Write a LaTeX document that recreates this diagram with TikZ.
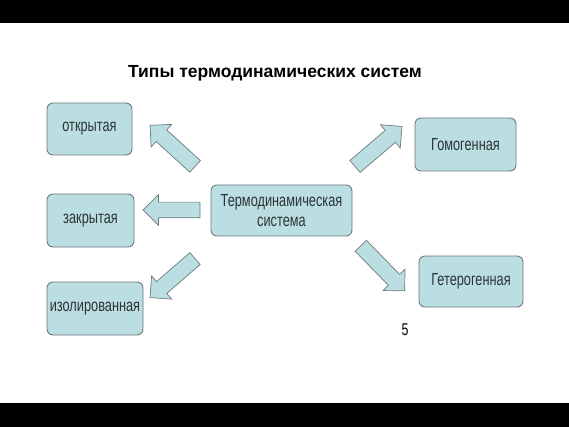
\documentclass[tikz,border=0pt]{standalone}
\usepackage{fontspec}
\setmainfont{Liberation Sans}
\newfontfamily\narrowfont[FakeStretch=0.73]{Liberation Sans}
\usepackage{tikz}
\usetikzlibrary{shapes.arrows,calc}

\definecolor{boxfill}{RGB}{186,222,226}
\definecolor{boxline}{RGB}{112,122,124}
\definecolor{boxtext}{RGB}{45,52,54}

\tikzset{
  kind/.style={draw=boxline,fill=boxfill,line width=0.9pt,rounded corners=6pt,
    text=boxtext,align=center,inner sep=0pt,
    font=\narrowfont\fontsize{17.5}{20}\selectfont},
  fatarrow/.style={single arrow,draw=boxline,fill=boxfill,line width=0.7pt,
    inner xsep=0pt,inner ysep=7.5pt,single arrow head extend=7.5pt,
    single arrow tip angle=90,anchor=center}
}
\newcommand{\blockarrow}[2]{%
  \path let \p1=($(#2)-(#1)$), \n1={atan2(\y1,\x1)}, \n2={veclen(\x1,\y1)} in
    node[fatarrow,rotate=\n1,minimum height=\n2] at ($(#1)!0.5!(#2)$) {};
}

\begin{document}
\begin{tikzpicture}[x=1pt,y=-1pt]
  \useasboundingbox (0,0) rectangle (569,427);
  \fill[black] (0,0) rectangle (569,23);
  \fill[black] (0,403) rectangle (569,427);

  \node (title) at (275,73) {\bfseries\fontsize{17.5}{20}\selectfont Типы термодинамических систем};

  % boxes
  \node[kind,minimum width=85pt,minimum height=52pt]  (open)   at (89.5,129)   {открытая};
  \node[kind,minimum width=87pt,minimum height=53pt]  (closed) at (90.5,220.5) {закрытая};
  \node[kind,minimum width=96pt,minimum height=53pt]  (isol)   at (95,308.5)   {изолированная};
  \node[kind,minimum width=141pt,minimum height=51pt] (thermo) at (281.5,210.5) {Термодинамическая\\система};
  \node[kind,minimum width=101pt,minimum height=53pt] (homo)   at (465.5,144.5) {Гомогенная};
  \node[kind,minimum width=104pt,minimum height=51pt] (hetero) at (471,281.5)   {Гетерогенная};

  \node (page) at (405,330) {\narrowfont\fontsize{17}{18}\selectfont 5};

  % arrow ends
  \coordinate (t1) at (198,169); \coordinate (h1) at (153,128);
  \coordinate (t2) at (204,210); \coordinate (h2) at (147,210);
  \coordinate (t3) at (198,256); \coordinate (h3) at (153,295);
  \coordinate (t4) at (352,169); \coordinate (h4) at (399,129);
  \coordinate (t5) at (358,243); \coordinate (h5) at (402,288);

  \blockarrow{t1}{h1}
  \blockarrow{t2}{h2}
  \blockarrow{t3}{h3}
  \blockarrow{t4}{h4}
  \blockarrow{t5}{h5}
\end{tikzpicture}
\end{document}
